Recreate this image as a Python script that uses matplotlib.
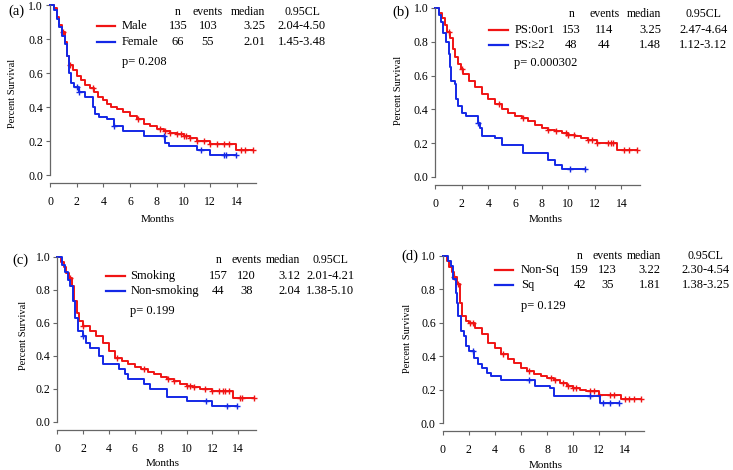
import numpy as np
import matplotlib
matplotlib.use('Agg')
import matplotlib.pyplot as plt

plt.rcParams['font.family'] = ['Liberation Serif', 'DejaVu Serif']

# ---- data (Kaplan-Meier steps: time, survival) ----
a_male_t = [0, 0.3, 0.5, 0.7, 0.9, 1.1, 1.3, 1.45, 1.7, 2.0, 2.3, 2.6, 3.0, 3.3, 3.6, 4.0, 4.3, 4.6, 5.0, 5.5,
            6.0, 6.5, 7.0, 7.5, 8.0, 8.5, 9.0, 9.5, 10.0, 10.5, 11.0, 12.0, 13.9, 15.2]
a_male_s = [1.0, 0.98, 0.93, 0.88, 0.84, 0.78, 0.70, 0.65, 0.62, 0.58, 0.56, 0.53, 0.51, 0.49, 0.46, 0.44, 0.42, 0.40,
            0.39, 0.37, 0.35, 0.33, 0.30, 0.29, 0.27, 0.26, 0.25, 0.24, 0.23, 0.22, 0.20, 0.18, 0.15, 0.15]
a_male_c = [1.0, 1.5, 3.2, 6.6, 8.2, 8.6, 9.0, 9.5, 9.8, 10.0, 10.2, 10.5, 11.0, 11.5, 12.0, 12.5, 13.0, 13.4,
            14.3, 14.6, 15.2]
a_fem_t = [0, 0.3, 0.5, 0.7, 0.9, 1.1, 1.3, 1.4, 1.6, 1.8, 2.2, 2.6, 3.2, 3.4, 3.7, 4.3, 4.8, 5.5, 7.0, 8.6, 8.9,
           11.0, 12.0, 13.9]
a_fem_s = [1.0, 0.97, 0.92, 0.87, 0.82, 0.77, 0.70, 0.60, 0.54, 0.52, 0.49, 0.46, 0.40, 0.36, 0.34, 0.33, 0.29, 0.26,
           0.23, 0.19, 0.17, 0.15, 0.12, 0.12]
a_fem_c = [2.0, 2.2, 4.8, 8.5, 11.3, 13.0, 13.2, 13.9]

b_red_t = [0, 0.3, 0.5, 0.7, 0.9, 1.1, 1.3, 1.5, 1.7, 1.9, 2.1, 2.5, 3.0, 3.5, 4.0, 4.5, 5.0, 5.5, 6.0, 6.5, 7.0,
           7.5, 8.0, 8.5, 9.0, 9.5, 10.0, 10.5, 11.0, 11.5, 12.2, 13.7, 15.2]
b_red_s = [1.0, 0.97, 0.94, 0.90, 0.86, 0.82, 0.76, 0.71, 0.67, 0.64, 0.61, 0.57, 0.53, 0.49, 0.46, 0.43, 0.40, 0.38,
           0.36, 0.35, 0.33, 0.31, 0.29, 0.28, 0.27, 0.26, 0.25, 0.24, 0.23, 0.22, 0.20, 0.16, 0.16]
b_red_c = [1.05, 2.0, 4.8, 6.6, 8.5, 9.1, 9.8, 10.0, 10.4, 11.5, 11.8, 12.2, 13.0, 13.2, 13.4, 14.2, 14.6, 15.2]
b_blue_t = [0, 0.3, 0.4, 0.6, 0.8, 1.0, 1.1, 1.2, 1.45, 1.55, 1.7, 2.0, 2.3, 3.2, 3.35, 3.55, 4.5, 5.0, 6.6, 8.5,
            9.0, 9.5, 11.3]
b_blue_s = [1.0, 0.96, 0.92, 0.85, 0.80, 0.73, 0.65, 0.57, 0.55, 0.46, 0.42, 0.38, 0.36, 0.32, 0.29, 0.24, 0.23, 0.19,
            0.14, 0.10, 0.07, 0.05, 0.05]
b_blue_c = [3.2, 10.1, 11.3]

c_red_t = [0, 0.3, 0.5, 0.7, 0.9, 1.1, 1.3, 1.5, 1.7, 2.0, 2.5, 3.0, 3.5, 4.0, 4.5, 5.0, 5.5, 6.0, 6.5, 7.0, 7.5,
           8.0, 8.5, 9.0, 9.5, 10.0, 10.5, 11.0, 12.0, 13.6, 15.2]
c_red_s = [1.0, 0.97, 0.94, 0.90, 0.87, 0.82, 0.73, 0.66, 0.61, 0.58, 0.55, 0.52, 0.48, 0.43, 0.39, 0.37, 0.35, 0.33,
           0.32, 0.30, 0.29, 0.27, 0.26, 0.25, 0.23, 0.22, 0.21, 0.20, 0.185, 0.145, 0.145]
c_red_c = [1.0, 2.0, 4.6, 6.7, 8.6, 9.0, 10.0, 10.3, 10.6, 11.4, 12.0, 12.5, 12.8, 13.0, 13.3, 14.1, 14.3, 15.2]
c_blue_t = [0, 0.4, 0.6, 0.8, 1.0, 1.2, 1.4, 1.6, 2.0, 2.2, 2.5, 3.2, 3.5, 4.8, 5.2, 5.5, 6.7, 7.2, 8.5, 10.0, 12.0,
            13.9]
c_blue_s = [1.0, 0.95, 0.91, 0.86, 0.82, 0.73, 0.63, 0.55, 0.52, 0.48, 0.45, 0.40, 0.35, 0.32, 0.29, 0.26, 0.23, 0.20,
            0.15, 0.125, 0.095, 0.095]
c_blue_c = [2.0, 11.5, 13.1, 13.9]

d_red_t = [0, 0.3, 0.5, 0.7, 0.9, 1.1, 1.3, 1.5, 1.8, 2.0, 2.5, 3.0, 3.5, 4.0, 4.5, 5.0, 5.5, 6.0, 6.5, 7.0, 7.5,
           8.0, 8.5, 9.0, 9.5, 10.0, 10.5, 11.0, 12.0, 13.7, 15.2]
d_red_s = [1.0, 0.97, 0.93, 0.90, 0.87, 0.83, 0.72, 0.64, 0.61, 0.60, 0.57, 0.53, 0.48, 0.45, 0.41, 0.38, 0.36, 0.33,
           0.31, 0.29, 0.28, 0.27, 0.26, 0.24, 0.22, 0.21, 0.20, 0.19, 0.17, 0.145, 0.145]
d_red_c = [0.9, 1.2, 2.1, 2.3, 4.6, 6.6, 8.3, 8.6, 9.2, 9.6, 10.0, 10.2, 11.3, 11.6, 12.0, 12.8, 13.1, 14.0, 14.3,
           14.7, 15.2]
d_blue_t = [0, 0.4, 0.6, 0.8, 1.0, 1.1, 1.2, 1.4, 1.6, 1.8, 2.0, 2.4, 2.7, 3.0, 3.4, 3.7, 4.5, 7.1, 8.2, 8.5, 12.1,
            13.5]
d_blue_s = [1.0, 0.97, 0.94, 0.86, 0.78, 0.72, 0.64, 0.55, 0.52, 0.46, 0.43, 0.39, 0.35, 0.33, 0.30, 0.28, 0.26, 0.22,
            0.21, 0.16, 0.12, 0.12]
d_blue_c = [2.3, 6.6, 11.3, 12.3, 12.8, 13.5]

header = ['n', 'events', 'median', '0.95CL']
a_rows = [['Male', '135', '103', '3.25', '2.04-4.50'], ['Female', '66', '55', '2.01', '1.45-3.48']]
b_rows = [['PS:0or1', '153', '114', '3.25', '2.47-4.64'], ['PS:\u22652', '48', '44', '1.48', '1.12-3.12']]
c_rows = [['Smoking', '157', '120', '3.12', '2.01-4.21'], ['Non-smoking', '44', '38', '2.04', '1.38-5.10']]
d_rows = [['Non-Sq', '159', '123', '3.22', '2.30-4.54'], ['Sq', '42', '35', '1.81', '1.38-3.25']]
p_values = ['p= 0.208', 'p= 0.000302', 'p= 0.199', 'p= 0.129']
panel_tags = ['(a)', '(b)', '(c)', '(d)']

RED = '#f01414'
BLUE = '#1428e6'
W, H = 733, 470

fig = plt.figure(figsize=(W / 100, H / 100), dpi=100)


def fx(x):
    return x / W


def fy(y):
    return 1 - y / H


# pixel layout of each panel: origin x, px per month, y of 0.0, y of 1.0,
# then legend offsets (line start/end, label x, n, events, median-right, CL centre) and row offsets
panels = [
    dict(x0=50, ppm=13.36, y0=175, y1=5, tag=(8, 11), ylab=(13, 93), xlab=(158, 220),
         cols=(47, 65, 72, 128, 158, 215, 252), rows=(7, 21, 37, 57)),
    dict(x0=435.3, ppm=13.29, y0=177, y1=8, tag=(392, 12), ylab=(398, 90), xlab=(546, 220),
         cols=(54, 73, 79, 136, 169, 226, 268), rows=(6, 22, 37, 55)),
    dict(x0=57.3, ppm=12.93, y0=422, y1=256.7, tag=(12, 260), ylab=(23, 335), xlab=(163, 464),
         cols=(49, 68, 73, 161, 189, 243, 273), rows=(3, 19, 34, 54)),
    dict(x0=442.7, ppm=13.04, y0=423, y1=255.7, tag=(401, 256), ylab=(408, 338), xlab=(546, 465),
         cols=(52, 70, 78, 137, 165, 218, 263), rows=(0, 14, 29, 50)),
]

curves = [
    [(a_male_t, a_male_s, a_male_c, RED), (a_fem_t, a_fem_s, a_fem_c, BLUE)],
    [(b_red_t, b_red_s, b_red_c, RED), (b_blue_t, b_blue_s, b_blue_c, BLUE)],
    [(c_red_t, c_red_s, c_red_c, RED), (c_blue_t, c_blue_s, c_blue_c, BLUE)],
    [(d_red_t, d_red_s, d_red_c, RED), (d_blue_t, d_blue_s, d_blue_c, BLUE)],
]
legend_rows = [a_rows, b_rows, c_rows, d_rows]

for i, p in enumerate(panels):
    x0, ppm, y0, y1 = p['x0'], p['ppm'], p['y0'], p['y1']
    ax = fig.add_axes([fx(x0), fy(y0), 16.5 * ppm / W, (y0 - y1) / H])
    ax.set_xlim(0, 16.5)
    ax.set_ylim(0, 1.0)
    for t, s, cens, col in curves[i]:
        ax.step(t, s, where='post', color=col, lw=1.4, clip_on=False)
        idx = np.searchsorted(t, cens, side='right') - 1
        ax.plot(cens, np.array(s)[idx], ls='none', marker='+', ms=5, mew=1.0, color=col, clip_on=False)

    for side in ['top', 'right']:
        ax.spines[side].set_visible(False)
    ax.spines['left'].set_bounds(0, 1)
    ax.spines['bottom'].set_bounds(0, 15.4)
    ax.spines['bottom'].set_position(('outward', 6))
    for side in ['left', 'bottom']:
        ax.spines[side].set_color('#666666')
        ax.spines[side].set_linewidth(0.9)
    ax.set_xticks(range(0, 15, 2))
    ax.set_yticks([0.0, 0.2, 0.4, 0.6, 0.8, 1.0])
    ax.set_yticklabels(['0.0', '0.2', '0.4', '0.6', '0.8', '1.0'])
    ax.tick_params(length=3, width=0.8, color='#666666', labelsize=8.5, pad=2)
    ax.tick_params(axis='x', pad=6)
    ax.patch.set_alpha(0)

    fig.text(fx(p['tag'][0]), fy(p['tag'][1]), panel_tags[i], fontsize=10.5, ha='left', va='center')
    fig.text(fx(p['ylab'][0]), fy(p['ylab'][1]), 'Percent Survival', fontsize=7.5, rotation=90,
             ha='center', va='center')
    fig.text(fx(p['xlab'][0]), fy(p['xlab'][1]), 'Months', fontsize=8, ha='center', va='center')

    ls, le, lx, cn, ce, cm, ccl = p['cols']
    rh, r1, r2, rp = p['rows']
    ytop = y1
    fig.text(fx(x0 + cn), fy(ytop + rh), header[0], fontsize=8.5, ha='center', va='center')
    fig.text(fx(x0 + ce), fy(ytop + rh), header[1], fontsize=8.5, ha='center', va='center')
    fig.text(fx(x0 + cm), fy(ytop + rh), header[2], fontsize=8.5, ha='right', va='center')
    fig.text(fx(x0 + ccl), fy(ytop + rh), header[3], fontsize=8.5, ha='center', va='center')
    for row, ry, col in zip(legend_rows[i], (r1, r2), (RED, BLUE)):
        yy = fy(ytop + ry)
        fig.add_artist(plt.Line2D([fx(x0 + ls), fx(x0 + le)], [yy, yy], color=col, lw=1.6))
        fig.text(fx(x0 + lx), yy, row[0], fontsize=9, ha='left', va='center')
        fig.text(fx(x0 + cn), yy, row[1], fontsize=9, ha='center', va='center')
        fig.text(fx(x0 + ce), yy, row[2], fontsize=9, ha='center', va='center')
        fig.text(fx(x0 + cm), yy, row[3], fontsize=9, ha='right', va='center')
        fig.text(fx(x0 + ccl), yy, row[4], fontsize=9, ha='center', va='center')
    fig.text(fx(x0 + lx), fy(ytop + rp), p_values[i], fontsize=9, ha='left', va='center')

fig.savefig('out.png', dpi=100)
